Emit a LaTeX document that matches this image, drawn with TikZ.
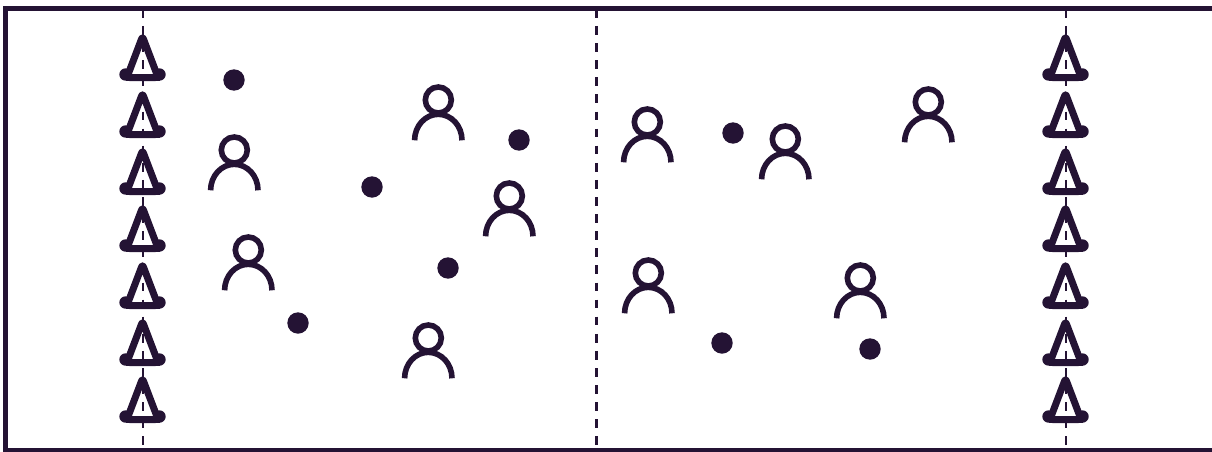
\documentclass[tikz,border=0pt]{standalone}
\definecolor{ink}{HTML}{241334}
\tikzset{
  x=1pt,y=-1pt,
  frameline/.style={draw=ink,line width=5.8pt},
  halfway/.style={draw=ink,line width=2.3pt,dash pattern=on 8.7pt off 8.4pt},
  ball/.style={circle,fill=ink,inner sep=0pt,minimum size=21.4pt},
  cone/.pic={
    \draw[ink,line width=7pt,line join=round,fill=white,rounded corners=2.5pt] (0,-38.5) -- (-15.6,2.5) -- (15.6,2.5) -- cycle;
    \fill[ink] (-17,-0.5) circle (6.2) (17,-0.5) circle (6.2);
    \draw[ink,line width=6.7pt] (-17,2.35) -- (17,2.35);
  },
  player/.pic={
    \draw[ink,line width=5.6pt] (0.3,0) circle (13);
    \draw[ink,line width=5.6pt] (-23.4,40.3) arc[start angle=180,end angle=360,x radius=23.7,y radius=26];
  }
}
\begin{document}
\begin{tikzpicture}
\useasboundingbox (0,0) rectangle (1212,452);
\foreach \y in {75,132,189,246,303,360,417}{
  \pic at (142.5,\y) {cone};
  \pic at (1065.5,\y) {cone};
}
\coordinate (ta) at (143,8.9); \coordinate (ba) at (143,450);
\coordinate (tb) at (596.5,8.9); \coordinate (bb) at (596.5,450);
\coordinate (tc) at (1066,8.9); \coordinate (bc) at (1066,450);
\draw[halfway] (ta) -- (ba);
\draw[halfway] (tb) -- (bb);
\draw[halfway] (tc) -- (bc);
\draw[frameline] (5.5,8.5) rectangle (1225,450.5);
\foreach \x/\y in {234/150,438/100,509/196,248/250,428/338,647/122,785/139,928/102,648/273,860/278}{
  \pic at (\x,\y) {player};
}
\foreach \x/\y in {234/80,519/140,372/187,448/268,298/323,733/133,722/343,870/349}{
  \node[ball] at (\x,\y) {};
}
\end{tikzpicture}
\end{document}
